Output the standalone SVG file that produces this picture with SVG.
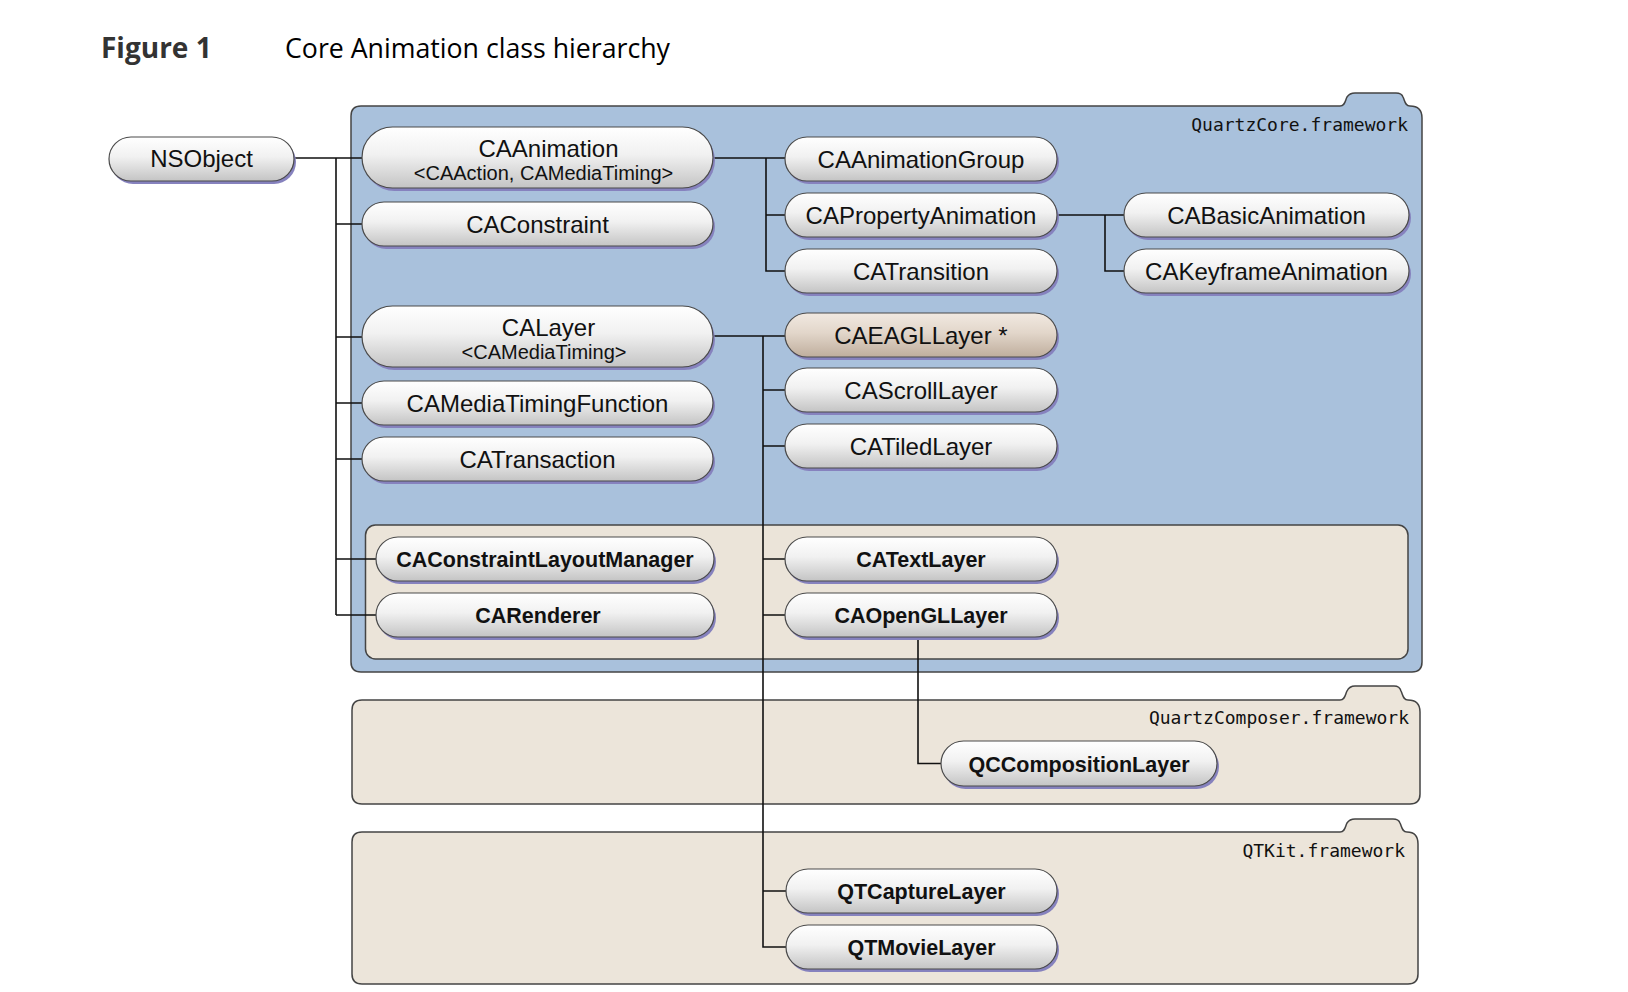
<svg xmlns="http://www.w3.org/2000/svg" width="1628" height="992" viewBox="0 0 1628 992">
<defs>
<linearGradient id="g" x1="0" y1="0" x2="0" y2="1">
<stop offset="0" stop-color="#ffffff"/>
<stop offset="0.45" stop-color="#f1f1f1"/>
<stop offset="1" stop-color="#c4c4c4"/>
</linearGradient>
<linearGradient id="gt" x1="0" y1="0" x2="0" y2="1">
<stop offset="0" stop-color="#f1e9e1"/>
<stop offset="0.45" stop-color="#e2d6ca"/>
<stop offset="1" stop-color="#bfae9d"/>
</linearGradient>
<style>
.pill{fill:url(#g);stroke:#4a4a4a;stroke-width:1.2}
.tan{fill:url(#gt)}
.sh{fill:#8682be}
.t{font-family:"Liberation Sans",Arial,sans-serif;font-size:24px;text-anchor:middle;fill:#111}
.tb{font-weight:bold;font-size:21.5px}
.ts{font-size:20px}
.fw{font-family:"DejaVu Sans Mono","Liberation Mono",monospace;font-size:18px;text-anchor:end;fill:#111}
.ln{stroke:#111;stroke-width:1.6;fill:none}
.box{stroke:#444;stroke-width:1.5}
</style>
</defs>
<rect width="1628" height="992" fill="#ffffff"/>
<g id="title">
<text x="101" y="58" style="font-family:'Open Sans','Noto Sans',sans-serif;font-weight:bold;font-size:28px;fill:#333">Figure 1</text>
<text x="285" y="58" textLength="385" lengthAdjust="spacingAndGlyphs" style="font-family:'Open Sans','Noto Sans',sans-serif;font-size:27px;fill:#000">Core Animation class hierarchy</text>
</g>
<g id="frameworks">
<g id="quartzcore">
<path class="box" fill="#a9c1dc" d="M361 106 H1340 C1345 106 1345 101 1347 97 C1349 94 1351 93 1355 93 H1396 C1400 93 1402 94 1403 97 C1405 101 1405 106 1410 106 Q1422 106 1422 118 V662 Q1422 672 1412 672 H361 Q351 672 351 662 V116 Q351 106 361 106 Z"/>
<text class="fw" x="1408" y="131">QuartzCore.framework</text>
<rect class="box" x="365.5" y="525" width="1042.5" height="134" rx="10" fill="#ebe4d9" stroke="#333"/>
</g>
<g id="quartzcomposer">
<path class="box" fill="#ece5da" d="M362 700 H1340 C1345 700 1345 695 1347 691 C1349 687 1351 686 1355 686 H1394 C1398 686 1400 687 1401 691 C1403 695 1403 700 1408 700 Q1420 700 1420 712 V794 Q1420 804 1410 804 H362 Q352 804 352 794 V710 Q352 700 362 700 Z"/>
<text class="fw" x="1409" y="724">QuartzComposer.framework</text>
</g>
<g id="qtkit">
<path class="box" fill="#ece5da" d="M362 832 H1340 C1345 832 1345 827 1347 823 C1349 820 1351 819 1355 819 H1393 C1397 819 1399 820 1400 823 C1402 827 1402 832 1407 832 Q1418 832 1418 844 V974 Q1418 984 1408 984 H362 Q352 984 352 974 V842 Q352 832 362 832 Z"/>
<text class="fw" x="1405" y="857">QTKit.framework</text>
</g>
</g>
<g id="connectors">
<path class="ln" d="M294 158 H362 M336 158 V615 M336 224 H362 M336 337 H362 M336 403 H362 M336 459 H362 M336 559 H376 M336 615 H376"/>
<path class="ln" d="M713 158 H785 M766 158 V271 H785 M766 215 H785"/>
<path class="ln" d="M1057 215 H1124 M1105 215 V271 H1124"/>
<path class="ln" d="M713 336 H785 M763 336 V947 H786 M763 390 H785 M763 446 H785 M763 559 H785 M763 615 H785 M763 891 H786"/>
<path class="ln" d="M918 637 V763.5 H941"/>
</g>
<g id="NSObject"><rect class="sh" x="111" y="140" width="185" height="44" rx="22"/><rect class="pill" x="109" y="137" width="185" height="44" rx="22"/><text class="t" x="201.5" y="167">NSObject</text></g>
<g id="CAAnimation"><rect class="sh" x="364" y="130" width="351" height="61" rx="30.5"/><rect class="pill" x="362" y="127" width="351" height="61" rx="30.5"/><text class="t" x="548.5" y="157">CAAnimation</text><text class="t ts" x="543.5" y="180">&lt;CAAction, CAMediaTiming&gt;</text></g>
<g id="CAConstraint"><rect class="sh" x="364" y="205" width="351" height="44" rx="22"/><rect class="pill" x="362" y="202" width="351" height="44" rx="22"/><text class="t" x="537.5" y="232.5">CAConstraint</text></g>
<g id="CALayer"><rect class="sh" x="364" y="309" width="351" height="61" rx="30.5"/><rect class="pill" x="362" y="306" width="351" height="61" rx="30.5"/><text class="t" x="548.5" y="336">CALayer</text><text class="t ts" x="544" y="359">&lt;CAMediaTiming&gt;</text></g>
<g id="CAMediaTimingFunction"><rect class="sh" x="364" y="384" width="351" height="44" rx="22"/><rect class="pill" x="362" y="381" width="351" height="44" rx="22"/><text class="t" x="537.5" y="411.5">CAMediaTimingFunction</text></g>
<g id="CATransaction"><rect class="sh" x="364" y="440" width="351" height="44" rx="22"/><rect class="pill" x="362" y="437" width="351" height="44" rx="22"/><text class="t" x="537.5" y="467.5">CATransaction</text></g>
<g id="CAConstraintLayoutManager"><rect class="sh" x="378" y="540" width="338" height="44" rx="22"/><rect class="pill" x="376" y="537" width="338" height="44" rx="22"/><text class="t tb" x="545" y="567">CAConstraintLayoutManager</text></g>
<g id="CARenderer"><rect class="sh" x="378" y="596" width="338" height="44" rx="22"/><rect class="pill" x="376" y="593" width="338" height="44" rx="22"/><text class="t tb" x="538" y="623">CARenderer</text></g>
<g id="CAAnimationGroup"><rect class="sh" x="787" y="140" width="272" height="44" rx="22"/><rect class="pill" x="785" y="137" width="272" height="44" rx="22"/><text class="t" x="921" y="167.5">CAAnimationGroup</text></g>
<g id="CAPropertyAnimation"><rect class="sh" x="787" y="196" width="272" height="44" rx="22"/><rect class="pill" x="785" y="193" width="272" height="44" rx="22"/><text class="t" x="921" y="223.5">CAPropertyAnimation</text></g>
<g id="CATransition"><rect class="sh" x="787" y="252" width="272" height="44" rx="22"/><rect class="pill" x="785" y="249" width="272" height="44" rx="22"/><text class="t" x="921" y="279.5">CATransition</text></g>
<g id="CAEAGLLayer"><rect class="sh" x="787" y="316" width="272" height="44" rx="22"/><rect class="pill tan" x="785" y="313" width="272" height="44" rx="22"/><text class="t" x="921" y="343.5">CAEAGLLayer *</text></g>
<g id="CAScrollLayer"><rect class="sh" x="787" y="371" width="272" height="44" rx="22"/><rect class="pill" x="785" y="368" width="272" height="44" rx="22"/><text class="t" x="921" y="398.5">CAScrollLayer</text></g>
<g id="CATiledLayer"><rect class="sh" x="787" y="427" width="272" height="44" rx="22"/><rect class="pill" x="785" y="424" width="272" height="44" rx="22"/><text class="t" x="921" y="454.5">CATiledLayer</text></g>
<g id="CATextLayer"><rect class="sh" x="787" y="540" width="272" height="44" rx="22"/><rect class="pill" x="785" y="537" width="272" height="44" rx="22"/><text class="t tb" x="921" y="567">CATextLayer</text></g>
<g id="CAOpenGLLayer"><rect class="sh" x="787" y="596" width="272" height="44" rx="22"/><rect class="pill" x="785" y="593" width="272" height="44" rx="22"/><text class="t tb" x="921" y="623">CAOpenGLLayer</text></g>
<g id="CABasicAnimation"><rect class="sh" x="1126" y="196" width="285" height="44" rx="22"/><rect class="pill" x="1124" y="193" width="285" height="44" rx="22"/><text class="t" x="1266.5" y="223.5">CABasicAnimation</text></g>
<g id="CAKeyframeAnimation"><rect class="sh" x="1126" y="252" width="285" height="44" rx="22"/><rect class="pill" x="1124" y="249" width="285" height="44" rx="22"/><text class="t" x="1266.5" y="279.5">CAKeyframeAnimation</text></g>
<g id="QCCompositionLayer"><rect class="sh" x="943" y="744" width="276" height="45" rx="22.5"/><rect class="pill" x="941" y="741" width="276" height="45" rx="22.5"/><text class="t tb" x="1079" y="771.5">QCCompositionLayer</text></g>
<g id="QTCaptureLayer"><rect class="sh" x="788" y="872" width="271" height="44" rx="22"/><rect class="pill" x="786" y="869" width="271" height="44" rx="22"/><text class="t tb" x="921.5" y="899">QTCaptureLayer</text></g>
<g id="QTMovieLayer"><rect class="sh" x="788" y="928" width="271" height="44" rx="22"/><rect class="pill" x="786" y="925" width="271" height="44" rx="22"/><text class="t tb" x="921.5" y="955">QTMovieLayer</text></g>
</svg>
